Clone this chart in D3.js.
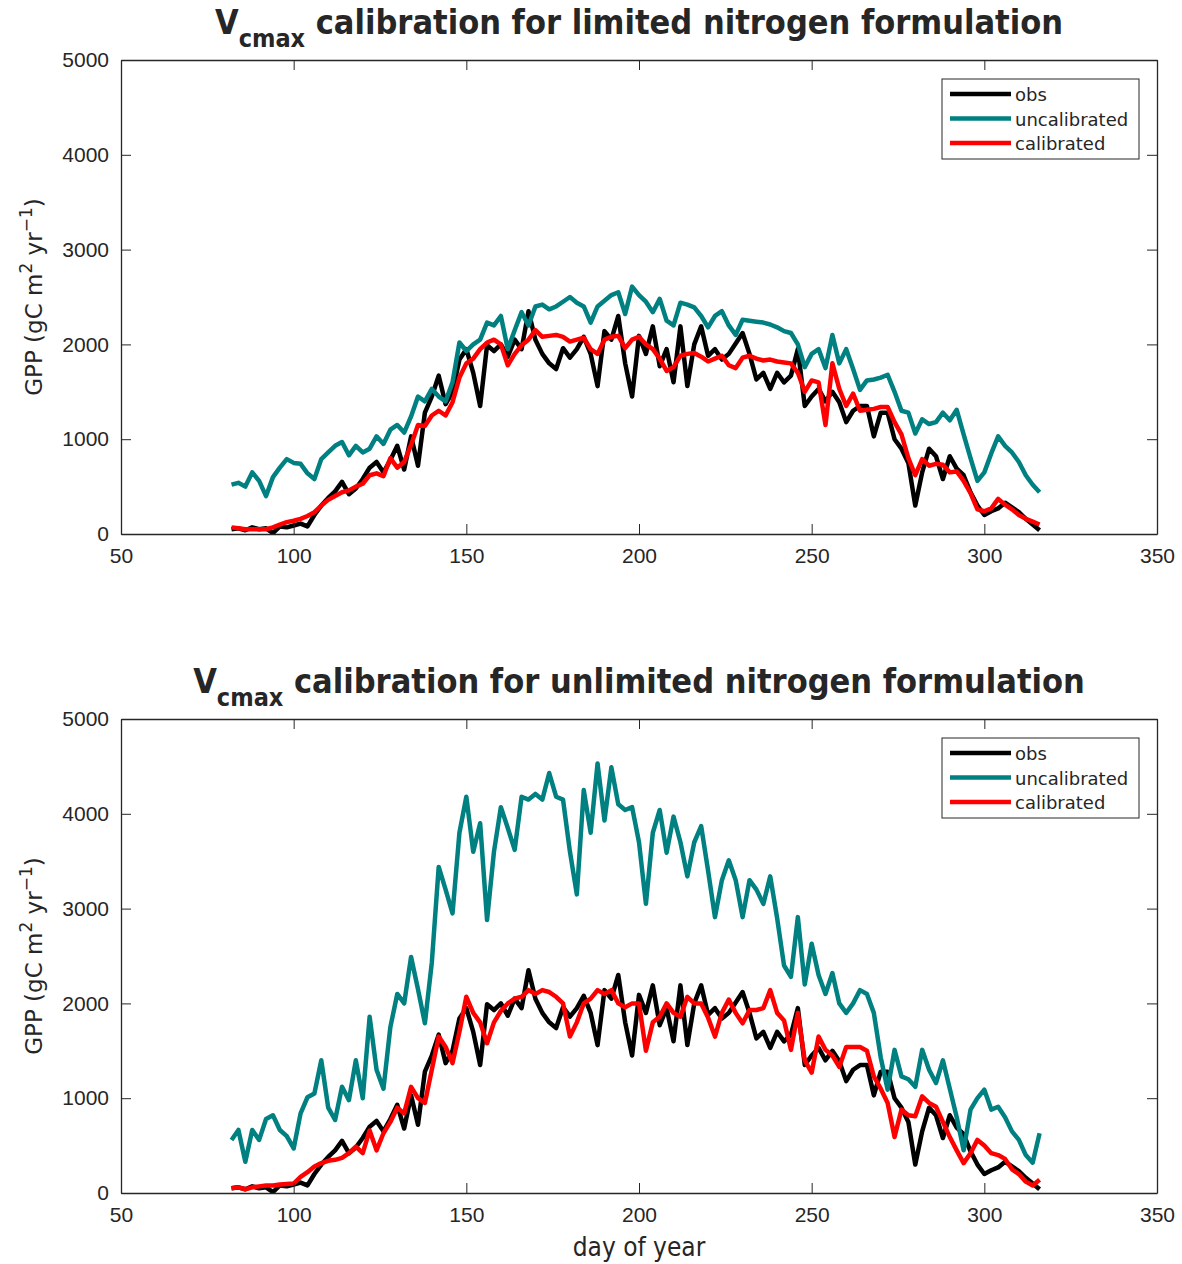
<!DOCTYPE html>
<html lang="en">
<head>
<meta charset="UTF-8">
<title>Vcmax calibration</title>
<script src="https://d3js.org/d3.v7.min.js"></script>
<style>
  body { margin: 0; background: #fff; }
  svg text { fill: #262626; }
  .axis line, .axis path { stroke: #262626; }
</style>
</head>
<body>
<div id="chart"></div>
<script>
// day-of-year grid (every 2 days)
const days = d3.range(82, 317, 2);

// observed GPP (same in both panels)
const obs = [50,60,40,70,50,60,10,80,70,90,110,80,200,300,380,450,550,420,480,580,
  700,760,650,780,930,680,1030,720,1280,1450,1670,1370,1500,1840,1950,1700,1350,1990,1930,2000,
  1870,2050,1950,2350,2050,1900,1800,1740,1960,1860,1950,2080,1900,1560,2140,2050,2300,1800,1450,2090,
  1900,2190,1770,1950,1600,2190,1560,2000,2190,1880,1950,1840,1900,2010,2120,1900,1630,1700,1530,1700,
  1600,1670,1950,1350,1450,1530,1400,1500,1390,1180,1300,1350,1350,1030,1280,1280,1000,900,750,300,
  650,900,820,580,820,690,620,440,300,200,240,270,330,280,230,160,100,40];

// limited nitrogen formulation
const uncalLimited = [520,540,500,650,560,400,600,700,790,750,740,640,580,790,860,930,970,830,930,860,
  900,1030,950,1100,1150,1070,1240,1450,1400,1530,1450,1400,1600,2020,1930,2000,2050,2230,2200,2300,
  1950,2150,2340,2200,2400,2420,2370,2400,2450,2500,2440,2400,2230,2400,2460,2520,2550,2320,2610,2520,
  2450,2340,2480,2250,2200,2440,2420,2390,2300,2180,2300,2350,2200,2100,2260,2250,2240,2230,2210,2180,
  2140,2120,2000,1760,1900,1950,1750,2100,1800,1950,1740,1520,1620,1630,1650,1680,1500,1300,1280,1060,
  1210,1160,1180,1280,1200,1310,1050,800,560,650,850,1030,930,860,760,620,520,440];
const calLimited = [70,60,50,50,50,50,70,100,125,140,160,190,230,300,360,400,440,460,500,530,
  620,640,610,800,700,760,940,1150,1140,1250,1300,1250,1390,1650,1800,1850,1950,2020,2050,2000,
  1780,1900,1990,2050,2150,2080,2090,2100,2080,2030,2050,2070,1950,1900,2050,2080,2090,1960,2050,2080,
  2000,1950,1850,1720,1760,1880,1900,1910,1870,1820,1850,1880,1780,1750,1860,1880,1850,1830,1840,1820,
  1810,1800,1700,1500,1620,1600,1150,1800,1530,1350,1480,1300,1310,1320,1340,1340,1180,1050,800,620,
  790,720,740,730,650,660,560,430,260,240,270,370,310,260,200,160,130,100];

// unlimited nitrogen formulation
const uncalUnlimited = [560,665,330,665,560,780,820,665,600,470,840,1010,1050,1400,900,770,1120,980,1400,1000,
  1860,1300,1100,1750,2100,2000,2490,2150,1790,2430,3440,3200,2950,3800,4180,3600,3900,2880,3600,4070,
  3850,3620,4180,4150,4210,4150,4430,4180,4150,3600,3150,4250,3800,4530,3930,4490,4100,4040,4070,3700,
  3050,3800,4040,3590,3970,3700,3340,3700,3870,3400,2910,3300,3510,3300,2910,3300,3200,3050,3340,2900,
  2400,2280,2910,2200,2630,2300,2100,2320,2000,1900,2000,2140,2100,1900,1430,1090,1510,1230,1200,1120,
  1510,1300,1160,1400,1100,800,450,880,1000,1090,880,910,800,650,560,400,320,630];
const calUnlimited = [50,60,40,60,70,80,80,90,95,100,170,220,280,315,340,350,370,420,490,420,
  660,450,630,750,900,840,1120,1000,950,1300,1650,1540,1370,1700,2070,1900,1800,1580,1800,1920,
  2000,2050,2070,2140,2100,2140,2120,2070,2000,1650,1800,2000,2050,2140,2100,2140,2000,1960,2000,2000,
  1500,1800,1860,2000,1900,1860,2070,2000,2000,1850,1650,1900,2040,1900,1790,1930,1930,1950,2140,1900,
  1820,1510,1900,1400,1270,1650,1510,1450,1330,1540,1540,1540,1500,1230,1100,950,590,880,820,810,
  1020,950,910,750,590,450,315,420,560,500,420,400,360,250,200,120,80,140];

const xTicks = [50, 100, 150, 200, 250, 300, 350];
const yTicks = [0, 1000, 2000, 3000, 4000, 5000];
const seriesNames = ["obs", "uncalibrated", "calibrated"];
const seriesColors = ["#000000", "#008080", "#ff0000"];

const panels = [
  {title: "calibration for limited nitrogen formulation", top: 60, series: [obs, uncalLimited, calLimited]},
  {title: "calibration for unlimited nitrogen formulation", top: 719, series: [obs, uncalUnlimited, calUnlimited]}
];

const W = 1182, H = 1264;
const left = 121, right = 1157, plotH = 474;

const svg = d3.select("#chart").append("svg")
  .attr("width", W).attr("height", H)
  .style("font-family", "'Liberation Sans Narrow', 'DejaVu Sans Condensed', 'Liberation Sans', sans-serif");

const x = d3.scaleLinear().domain([50, 350]).range([left, right]);

panels.forEach(function(p, i) {
  const y = d3.scaleLinear().domain([0, 5000]).range([p.top + plotH, p.top]);
  const g = svg.append("g");

  // clip
  g.append("clipPath").attr("id", "clip" + i)
    .append("rect").attr("x", left).attr("y", p.top).attr("width", right - left).attr("height", plotH);

  // lines
  const line = d3.line()
    .x(function(d, j) { return x(days[j]); })
    .y(function(d) { return y(d); });
  p.series.forEach(function(s, k) {
    g.append("path")
      .datum(s)
      .attr("clip-path", "url(#clip" + i + ")")
      .attr("fill", "none")
      .attr("stroke", seriesColors[k])
      .attr("stroke-width", 4.5)
      .attr("stroke-linejoin", "round")
      .attr("d", line);
  });

  // axes (ticks inside, box on)
  const fmt = d3.format("d");
  g.append("g").attr("class", "axis")
    .attr("transform", "translate(0," + (p.top + plotH) + ")")
    .call(d3.axisBottom(x).tickValues(xTicks).tickFormat(fmt).tickSizeInner(-10).tickSizeOuter(0).tickPadding(14))
    .call(function(a) { a.selectAll("text").attr("font-size", 21).attr("fill", "#262626"); });
  g.append("g").attr("class", "axis")
    .attr("transform", "translate(0," + p.top + ")")
    .call(d3.axisTop(x).tickValues(xTicks).tickFormat("").tickSizeInner(-10).tickSizeOuter(0));
  g.append("g").attr("class", "axis")
    .attr("transform", "translate(" + left + ",0)")
    .call(d3.axisLeft(y).tickValues(yTicks).tickFormat(fmt).tickSizeInner(-10).tickSizeOuter(0).tickPadding(12))
    .call(function(a) { a.selectAll("text").attr("font-size", 21).attr("fill", "#262626"); });
  g.append("g").attr("class", "axis")
    .attr("transform", "translate(" + right + ",0)")
    .call(d3.axisRight(y).tickValues(yTicks).tickFormat("").tickSizeInner(-10).tickSizeOuter(0));
  g.selectAll(".axis path").attr("stroke-width", 1.3);

  // title
  const t = svg.append("text")
    .attr("x", (left + right) / 2).attr("y", p.top - 26)
    .attr("text-anchor", "middle")
    .attr("font-size", 34).attr("font-weight", "bold");
  t.append("tspan").text("V");
  t.append("tspan").attr("font-size", 25).attr("dy", 13).text("cmax");
  t.append("tspan").attr("dy", -13).text(" " + p.title);

  // y label
  const yl = svg.append("text")
    .attr("transform", "translate(42," + (p.top + plotH / 2) + ") rotate(-90)")
    .attr("text-anchor", "middle")
    .attr("font-family", "'DejaVu Sans', sans-serif")
    .attr("font-size", 23);
  yl.append("tspan").text("GPP (gC m");
  yl.append("tspan").attr("font-size", 17).attr("dy", -10).text("2");
  yl.append("tspan").attr("dy", 10).text(" yr");
  yl.append("tspan").attr("font-size", 17).attr("dy", -10).text("\u22121");
  yl.append("tspan").attr("dy", 10).text(")");

  // legend
  const lx = 942, ly = p.top + 19;
  const leg = svg.append("g");
  leg.append("rect").attr("x", lx).attr("y", ly).attr("width", 197).attr("height", 80)
    .attr("fill", "#fff").attr("stroke", "#262626").attr("stroke-width", 1);
  seriesNames.forEach(function(n, k) {
    const ry = ly + 15 + k * 24.5;
    leg.append("line").attr("x1", lx + 8).attr("x2", lx + 69).attr("y1", ry).attr("y2", ry)
      .attr("stroke", seriesColors[k]).attr("stroke-width", 4.5);
    leg.append("text").attr("x", lx + 73).attr("y", ry + 7)
      .attr("font-family", "'DejaVu Sans', sans-serif")
      .attr("font-size", 18).text(n);
  });
});

// x label
svg.append("text")
  .attr("x", (left + right) / 2).attr("y", 1256)
  .attr("text-anchor", "middle")
  .attr("font-size", 26)
  .text("day of year");
</script>
</body>
</html>
